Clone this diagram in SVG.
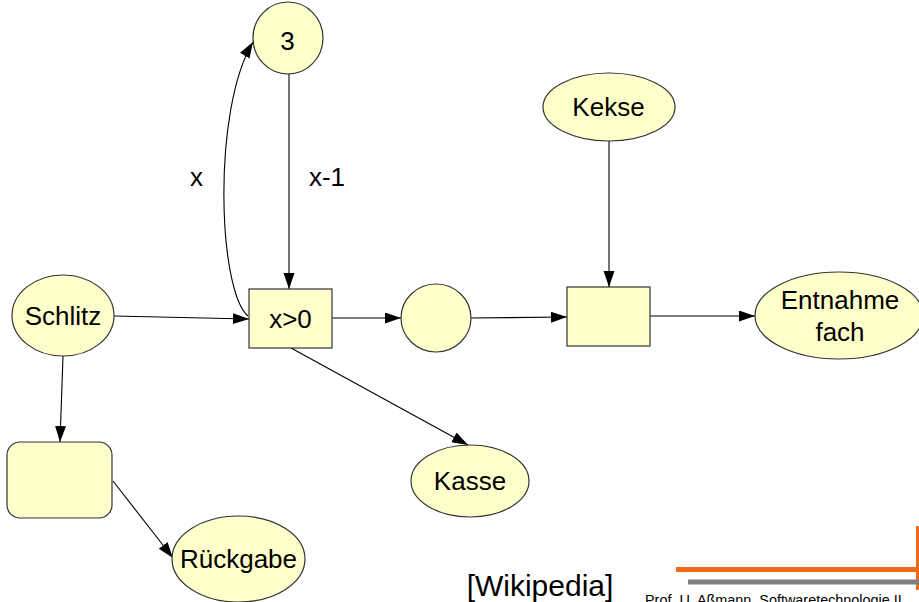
<svg xmlns="http://www.w3.org/2000/svg" width="919" height="602" viewBox="0 0 919 602">
  <style>
    .node { fill: #ffffcc; stroke: #333333; stroke-width: 1.2; }
    .label { font-family: "Liberation Sans", Arial, sans-serif; font-size: 26px; fill: #000000; text-anchor: middle; }
    .edge { fill: none; stroke: #000000; stroke-width: 1.1; marker-end: url(#arrow); }
    .foot { font-family: "Liberation Sans", Arial, sans-serif; fill: #000000; }
  </style>
  <defs>
    <marker id="arrow" markerUnits="userSpaceOnUse" markerWidth="17" markerHeight="12" refX="16" refY="5.5" orient="auto">
      <path d="M0,0 L16,5.5 L0,11 z" fill="#000000"/>
    </marker>
  </defs>
  <rect width="919" height="602" fill="#ffffff"/>

  <!-- connectors -->
  <g id="connectors">
    <path class="edge" d="M248,316 C218,290 212,110 253,42"/>
    <line class="edge" x1="289" y1="74" x2="289" y2="289"/>
    <line class="edge" x1="114" y1="316" x2="249" y2="319"/>
    <line class="edge" x1="332" y1="318" x2="401" y2="318"/>
    <line class="edge" x1="471" y1="318" x2="567" y2="317"/>
    <line class="edge" x1="609" y1="141" x2="609" y2="287"/>
    <line class="edge" x1="650" y1="316" x2="755" y2="316"/>
    <line class="edge" x1="291" y1="348" x2="468" y2="445"/>
    <line class="edge" x1="63" y1="356" x2="60" y2="442"/>
    <line class="edge" x1="113" y1="481" x2="173" y2="558"/>
    <text class="label" x="196.5" y="186">x</text>
    <text class="label" x="327" y="186">x-1</text>
  </g>

  <!-- places and transitions -->
  <g id="place-3">
    <ellipse class="node" cx="288" cy="38" rx="35" ry="36"/>
    <text class="label" x="287.5" y="50">3</text>
  </g>
  <g id="place-schlitz">
    <ellipse class="node" cx="63" cy="315.5" rx="51" ry="40.5"/>
    <text class="label" x="63" y="325">Schlitz</text>
  </g>
  <g id="transition-check">
    <rect class="node" x="249" y="289" width="83" height="59"/>
    <text class="label" x="290.5" y="328">x&gt;0</text>
  </g>
  <g id="place-empty">
    <ellipse class="node" cx="436" cy="318" rx="35" ry="34"/>
  </g>
  <g id="transition-out">
    <rect class="node" x="567" y="287" width="83" height="59"/>
  </g>
  <g id="place-kekse">
    <ellipse class="node" cx="609" cy="107" rx="66" ry="34"/>
    <text class="label" x="608.5" y="116">Kekse</text>
  </g>
  <g id="place-entnahme">
    <ellipse class="node" cx="839" cy="315.5" rx="84" ry="43.5"/>
    <text class="label" x="840" y="309">Entnahme</text>
    <text class="label" x="840" y="341">fach</text>
  </g>
  <g id="place-kasse">
    <ellipse class="node" cx="470" cy="481" rx="59" ry="36"/>
    <text class="label" x="470" y="490">Kasse</text>
  </g>
  <g id="transition-return">
    <rect class="node" x="7" y="442" width="105" height="76" rx="13" ry="13"/>
  </g>
  <g id="place-rueckgabe">
    <ellipse class="node" cx="238.5" cy="559" rx="66.5" ry="43"/>
    <text class="label" x="238.5" y="568">Rückgabe</text>
  </g>

  <!-- source and footer -->
  <text class="foot" x="540" y="596" font-size="30" text-anchor="middle">[Wikipedia]</text>
  <rect x="676" y="567" width="243" height="5" fill="#ee6a1a"/>
  <rect x="916" y="526" width="3" height="64" fill="#ee6a1a"/>
  <rect x="688" y="579.5" width="231" height="5" fill="#808080"/>
  <text class="foot" x="645" y="604.5" font-size="14.4">Prof. U. Aßmann, Softwaretechnologie II</text>
</svg>
